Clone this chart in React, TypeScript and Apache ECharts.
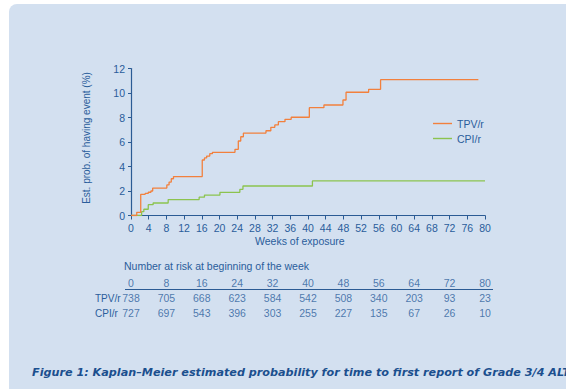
import React, { useEffect, useRef } from "react";
import * as echarts from "echarts";

const tpvWeeks = [0, 1.3, 2.2, 3.2, 3.9, 4.5, 4.9, 8.1, 8.6, 9.1, 9.6, 16.1, 16.6, 17.1, 17.8, 18.4, 23.5, 24.25, 24.8, 25.4, 30.5, 31.6, 32.5, 33.3, 34.8, 36.2, 40.3, 43.6, 47.9, 48.6, 53.7, 56.4, 78.5];
const tpvProb = [0, 0.26, 1.73, 1.8, 1.9, 2.0, 2.24, 2.5, 2.73, 3.0, 3.18, 4.53, 4.7, 4.85, 5.05, 5.16, 5.4, 6.08, 6.43, 6.73, 6.92, 7.2, 7.39, 7.66, 7.85, 8.02, 8.8, 9.02, 9.43, 10.06, 10.3, 11.09, 11.09];

const cpiWeeks = [0, 2.4, 2.9, 3.9, 5.0, 8.4, 15.4, 16.6, 20.1, 24.6, 25.3, 41.0, 80];
const cpiProb = [0, 0.31, 0.51, 0.88, 1.02, 1.3, 1.5, 1.67, 1.89, 2.14, 2.41, 2.82, 2.82];

const seriesNames = ["TPV/r", "CPI/r"];
const riskWeeks = [0, 8, 16, 24, 32, 40, 48, 56, 64, 72, 80];
const tpvRisk = [738, 705, 668, 623, 584, 542, 508, 340, 203, 93, 23];
const cpiRisk = [727, 697, 543, 396, 303, 255, 227, 135, 67, 26, 10];
const riskRows = ["", "TPV/r", "CPI/r"];

const FONT = "'Liberation Sans', Arial, Helvetica, sans-serif";
const BLUE = "#2a5d9b";
const AXIS = "#2b5b94";
const ORANGE = "#f2803d";
const GREEN = "#8cc34f";

export default function App() {
  const ref = useRef<HTMLDivElement>(null);
  useEffect(() => {
    if (!ref.current) return;
    const chart = echarts.init(ref.current, undefined, { renderer: "svg" });
    const riskData: any[] = [];
    riskWeeks.forEach((w, i) => {
      riskData.push([w, 0, w]);
      riskData.push([w, 1, tpvRisk[i]]);
      riskData.push([w, 2, cpiRisk[i]]);
    });
    const legendBase = {
      orient: "vertical",
      left: 433,
      icon: "rect",
      itemWidth: 19,
      itemHeight: 1.4,
      padding: 0,
      textStyle: { color: BLUE, fontSize: 10.5, fontFamily: FONT },
    };
    chart.setOption({
      animation: false,
      backgroundColor: "#ffffff",
      textStyle: { fontFamily: FONT },
      graphic: [
        {
          type: "rect",
          z: -10,
          silent: true,
          shape: { x: 9, y: 4, width: 600, height: 420, r: [8, 0, 0, 0] },
          style: { fill: "#d3e0f0" },
        },
        {
          type: "text",
          x: 86,
          y: 138,
          rotation: Math.PI / 2,
          style: {
            text: "Est. prob. of having event (%)",
            fill: BLUE,
            font: `10px ${FONT}`,
            textAlign: "center",
            textVerticalAlign: "middle",
          },
        },
        {
          type: "text",
          x: 255,
          y: 241,
          style: {
            text: "Weeks of exposure",
            fill: BLUE,
            font: `10.5px ${FONT}`,
            textAlign: "left",
            textVerticalAlign: "middle",
          },
        },
        {
          type: "text",
          x: 124,
          y: 266,
          style: {
            text: "Number at risk at beginning of the week",
            fill: BLUE,
            font: `10.5px ${FONT}`,
            textAlign: "left",
            textVerticalAlign: "middle",
          },
        },
        {
          type: "line",
          shape: { x1: 125, y1: 289.5, x2: 493, y2: 289.5 },
          style: { stroke: AXIS, lineWidth: 1.2 },
        },
        {
          type: "text",
          x: 32,
          y: 372.5,
          style: {
            text: "Figure 1: Kaplan–Meier estimated probability for time to first report of Grade 3/4 ALT",
            fill: "#1b4f8e",
            font: `italic bold 11.2px 'DejaVu Sans', sans-serif`,
            textAlign: "left",
            textVerticalAlign: "middle",
          },
        },
      ],
      legend: [
        { ...legendBase, data: [seriesNames[0]], top: 118 },
        { ...legendBase, data: [seriesNames[1]], top: 133 },
      ],
      grid: [
        { left: 131, right: 81, top: 68.5, bottom: 173.5 },
        { left: 131, right: 81, top: 275.5, height: 45 },
      ],
      xAxis: [
        {
          type: "value",
          gridIndex: 0,
          min: 0,
          max: 80,
          interval: 4,
          splitLine: { show: false },
          axisLine: { lineStyle: { color: AXIS, width: 1.2 } },
          axisTick: { length: 4, lineStyle: { color: AXIS } },
          axisLabel: { color: BLUE, fontSize: 10.5, margin: 7, fontFamily: FONT },
        },
        { type: "value", gridIndex: 1, min: 0, max: 80, show: false },
      ],
      yAxis: [
        {
          type: "value",
          gridIndex: 0,
          min: 0,
          max: 12,
          interval: 2,
          splitLine: { show: false },
          axisLine: { show: true, lineStyle: { color: AXIS, width: 1.2 } },
          axisTick: { show: true, length: 3, lineStyle: { color: AXIS } },
          axisLabel: { color: BLUE, fontSize: 10.5, margin: 6, fontFamily: FONT },
        },
        {
          type: "category",
          gridIndex: 1,
          data: riskRows,
          inverse: true,
          axisLine: { show: false },
          axisTick: { show: false },
          splitLine: { show: false },
          axisLabel: { color: BLUE, fontSize: 10, align: "left", margin: 36, fontFamily: FONT },
        },
      ],
      series: [
        {
          name: seriesNames[0],
          type: "line",
          step: "end",
          symbol: "none",
          z: 3,
          xAxisIndex: 0,
          yAxisIndex: 0,
          color: ORANGE,
          lineStyle: { color: ORANGE, width: 1.3 },
          data: tpvWeeks.map((w, i) => [w, tpvProb[i]]),
        },
        {
          name: seriesNames[1],
          type: "line",
          step: "end",
          symbol: "none",
          z: 2,
          xAxisIndex: 0,
          yAxisIndex: 0,
          color: GREEN,
          lineStyle: { color: GREEN, width: 1.3 },
          data: cpiWeeks.map((w, i) => [w, cpiProb[i]]),
        },
        {
          type: "scatter",
          xAxisIndex: 1,
          yAxisIndex: 1,
          symbolSize: 2,
          itemStyle: { color: "rgba(0,0,0,0)" },
          silent: true,
          label: {
            show: true,
            position: "inside",
            color: BLUE,
            fontSize: 10.5,
            fontFamily: FONT,
            formatter: (p: any) => String(p.value[2]),
          },
          labelLayout: { hideOverlap: false },
          data: riskData,
        },
      ],
    });
    return () => chart.dispose();
  }, []);
  return (
    <div
      ref={ref}
      style={{ position: "fixed", left: 0, top: 0, width: 566, height: 389 }}
    />
  );
}
